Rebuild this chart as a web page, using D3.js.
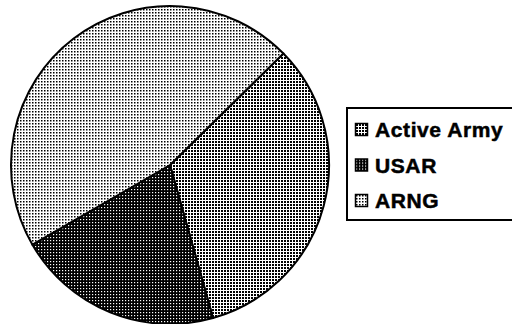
<!doctype html>
<html lang="en">
<head>
	<meta charset="UTF-8">
	<title>Army components</title>
	<script src="https://cdn.jsdelivr.net/npm/d3@7"></script>
	<style>
		body { margin: 0; background: #fff; }
		svg { display: block; }
	</style>
</head>
<body>
<div id="container"></div>
<script>
	var width = 512, height = 324;

	// slices, clockwise from the top-right cut
	var categories = ["Active Army", "USAR", "ARNG"];
	var values = [33, 21, 46];
	var legendLabels = ["Active Army", "USAR", "ARNG"];
	var startDeg = 45.5;

	var cx = 170, cy = 165, r = 159;

	var svg = d3.select("#container")
			.append("svg")
			.attr("width", width)
			.attr("height", height);

	var defs = svg.append("defs");

	// ARNG: sparse black dots on white
	var p1 = defs.append("pattern").attr("id", "pat-arng")
			.attr("width", 3).attr("height", 3).attr("patternUnits", "userSpaceOnUse");
	p1.append("rect").attr("width", 3).attr("height", 3).attr("fill", "#fff");
	p1.append("rect").attr("width", 1.5).attr("height", 1.5).attr("fill", "#000");

	// Active Army: medium dots
	var p2 = defs.append("pattern").attr("id", "pat-active")
			.attr("width", 3).attr("height", 3).attr("patternUnits", "userSpaceOnUse");
	p2.append("rect").attr("width", 3).attr("height", 3).attr("fill", "#fff");
	p2.append("rect").attr("width", 2).attr("height", 2).attr("fill", "#000");

	// USAR: dark with small white dots
	var p3 = defs.append("pattern").attr("id", "pat-usar")
			.attr("width", 3).attr("height", 3).attr("patternUnits", "userSpaceOnUse");
	p3.append("rect").attr("width", 3).attr("height", 3).attr("fill", "#000");
	p3.append("rect").attr("width", 1.2).attr("height", 1.2).attr("fill", "#fff");

	var fills = d3.scaleOrdinal()
			.domain(categories)
			.range(["url(#pat-active)", "url(#pat-usar)", "url(#pat-arng)"]);

	var data = categories.map(function (c, i) { return { name: c, value: values[i] }; });

	var start = startDeg * Math.PI / 180;
	var pie = d3.pie()
			.sort(null)
			.value(function (d) { return d.value; })
			.startAngle(start)
			.endAngle(start + 2 * Math.PI);

	var arc = d3.arc().innerRadius(0).outerRadius(r);

	var g = svg.append("g")
			.attr("transform", "translate(" + cx + "," + cy + ")");

	g.selectAll("path")
			.data(pie(data))
			.enter()
			.append("path")
			.attr("d", arc)
			.attr("fill", function (d) { return fills(d.data.name); })
			.attr("stroke", "#000")
			.attr("stroke-width", 2)
			.attr("stroke-linejoin", "round");

	// legend (box runs past the right edge)
	var lg = svg.append("g").attr("transform", "translate(347,108)");
	lg.append("rect")
			.attr("x", 0).attr("y", 0)
			.attr("width", 180).attr("height", 112)
			.attr("fill", "#fff")
			.attr("stroke", "#000")
			.attr("stroke-width", 2);

	var rowY = d3.scalePoint().domain(legendLabels).range([22, 93]);

	var items = lg.selectAll("g.item")
			.data(legendLabels)
			.enter()
			.append("g")
			.attr("class", "item")
			.attr("transform", function (d) { return "translate(0," + rowY(d) + ")"; });

	items.append("rect")
			.attr("x", 8.5).attr("y", -6.5)
			.attr("width", 12).attr("height", 12)
			.attr("fill", function (d) { return fills(d); })
			.attr("stroke", "#000")
			.attr("stroke-width", 1.5);

	items.append("text")
			.attr("x", 28)
			.attr("y", 7)
			.attr("font-family", "Liberation Sans, Arial, sans-serif")
			.attr("font-weight", "bold")
			.attr("font-size", 21)
			.attr("letter-spacing", 0.6)
			.attr("stroke", "#000")
			.attr("stroke-width", 0.5)
			.attr("fill", "#000")
			.text(function (d) { return d; });
</script>
</body>
</html>
